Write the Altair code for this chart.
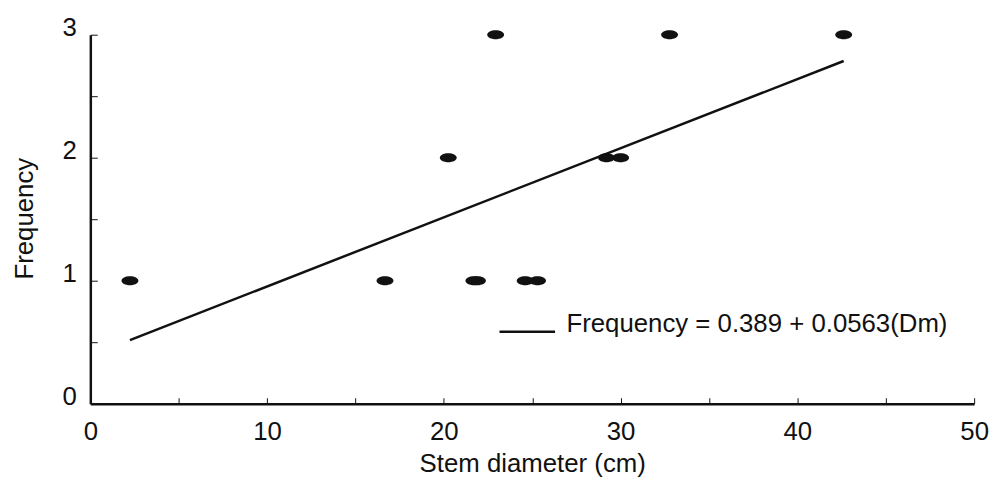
import altair as alt
import pandas as pd

# ---- data ----
diameter = [2.24, 16.67, 20.25, 21.7, 21.9, 24.6, 25.3, 22.93, 29.2, 30.0, 32.77, 42.62]
frequency = [1, 1, 2, 1, 1, 1, 1, 3, 2, 2, 3, 3]
x_tick_values = [0, 5, 10, 15, 20, 25, 30, 35, 40, 45, 50]
x_label_values = [0, 10, 20, 30, 40, 50]
y_tick_values = [0, 0.5, 1, 1.5, 2, 2.5, 3]
y_label_values = [0, 1, 2, 3]
legend_label = "Frequency = 0.389 + 0.0563(Dm)"
x_title = "Stem diameter (cm)"
y_title = "Frequency"

df = pd.DataFrame({"Dm": diameter, "Frequency": frequency,
                   "series": [legend_label] * len(diameter)})

W, H = 891, 372
FONT = "Liberation Sans"
INK = "#111111"
FS = 26
ellipse = "M-1,0A1,0.53,0,1,0,1,0A1,0.53,0,1,0,-1,0Z"

xscale = alt.Scale(domain=[0, 50], nice=False, zero=False)
yscale = alt.Scale(domain=[0, 3], nice=False, zero=False)

points = alt.Chart(df).mark_point(
    shape=ellipse, filled=True, size=289, color=INK, opacity=1
).encode(
    x=alt.X("Dm:Q", scale=xscale, axis=alt.Axis(
        orient="bottom", values=x_label_values, ticks=False, tickSize=0,
        labelPadding=15, labelBaseline="top", labelFontSize=FS, labelFont=FONT,
        labelColor=INK, labelFlush=False, labelOverlap=False,
        title=x_title, titleFontSize=FS, titleFont=FONT, titleFontWeight="normal",
        titleColor=INK, titleY=68, titleBaseline="alphabetic",
        domainWidth=2.5, domainColor=INK, grid=False)),
    y=alt.Y("Frequency:Q", scale=yscale, axis=alt.Axis(
        orient="left", values=y_label_values, ticks=False, tickSize=0,
        labelPadding=14, labelBaseline="alphabetic", labelOffset=1,
        labelFontSize=FS, labelFont=FONT, labelColor=INK, labelFlush=False,
        labelOverlap=False,
        title=y_title, titleFontSize=FS, titleFont=FONT, titleFontWeight="normal",
        titleColor=INK, titleX=-58, titleY=185, titleBaseline="alphabetic",
        domainWidth=2.5, domainColor=INK, grid=False)),
)

fit = alt.Chart(df).transform_regression(
    "Dm", "Frequency", groupby=["series"]
).mark_line(strokeWidth=2.5).encode(
    x=alt.X("Dm:Q", scale=xscale, axis=alt.Axis(
        orient="top", offset=-H, values=x_tick_values, labels=False,
        domain=False, ticks=True, tickSize=6, tickColor=INK, tickWidth=1,
        grid=False, title=None)),
    y=alt.Y("Frequency:Q", scale=yscale, axis=alt.Axis(
        orient="right", offset=-W, values=y_tick_values, labels=False,
        domain=False, ticks=True, tickSize=7, tickColor=INK, tickWidth=1,
        grid=False, title=None)),
    color=alt.Color("series:N",
        scale=alt.Scale(range=[INK]),
        legend=alt.Legend(
            orient="none", legendX=411, legendY=270, title=None,
            symbolType="stroke", symbolSize=3136, symbolStrokeWidth=2.5,
            labelFontSize=FS, labelFont=FONT, labelColor=INK, labelOffset=10,
            labelBaseline="alphabetic", labelLimit=800, padding=0)),
)

chart = alt.layer(points, fit).resolve_axis(
    x="independent", y="independent"
).properties(
    width=W, height=H,
    autosize=alt.AutoSizeParams(type="none"),
    padding={"left": 83, "top": 25, "right": 16, "bottom": 73},
    background="white",
).configure_view(stroke=None)

chart.save("out.html", embed_options={"renderer": "svg", "actions": False})
